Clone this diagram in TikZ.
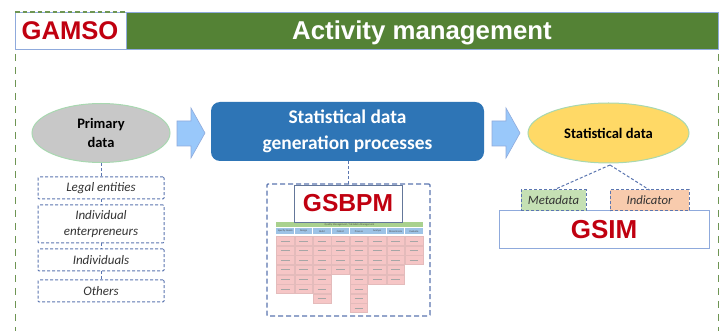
\documentclass[tikz,border=0pt]{standalone}
\usepackage{fontspec}
\setmainfont{Carlito}
\newfontfamily\arialf{Liberation Sans}
\usetikzlibrary{shapes.geometric,calc}
\definecolor{hdrgreen}{HTML}{548235}
\definecolor{frameblue}{HTML}{8FAADC}
\definecolor{dashblue}{HTML}{5B76B0}
\definecolor{boxblue}{HTML}{2E75B6}
\definecolor{arrowblue}{HTML}{99C8FA}
\definecolor{gamsored}{HTML}{C00010}
\definecolor{ellgrey}{HTML}{C8C8C8}
\definecolor{ellyellow}{HTML}{FFD966}
\definecolor{ellline}{HTML}{A8D8B0}
\definecolor{metagreen}{HTML}{C5E0B4}
\definecolor{indorange}{HTML}{F8CBAD}
\definecolor{cellpink}{HTML}{F6C6C6}
\definecolor{rowblue}{HTML}{9DC3E6}
\definecolor{rowgreen}{HTML}{A9D18E}
\tikzset{
  x=1pt,y=-1pt,
  boxat/.style={minimum width=0pt,minimum height=0pt,inner sep=0pt,outer sep=0pt},
  listbox/.style={boxat,draw=dashblue,dash pattern=on 3pt off 2pt,line width=1pt,rounded corners=1pt,
    font=\fontsize{13}{16}\selectfont\itshape,text=black!80,align=center},
  linkline/.style={draw=dashblue,line width=1pt,dash pattern=on 3pt off 2pt},
  framedash/.style={draw=hdrgreen!85!white,line width=1.6pt,dash pattern=on 7pt off 6pt},
  ell/.style={ellipse,draw=ellline,line width=1pt,inner sep=0pt,align=center,font=\fontsize{14.5}{19}\selectfont\bfseries},
  bigarrow/.style={fill=arrowblue,draw=frameblue,line width=.6pt},
  tag/.style={boxat,draw=dashblue,line width=1pt,dash pattern=on 3pt off 2pt,font=\fontsize{12.7}{14}\selectfont\itshape,text=black!80},
  cell/.style={fill=cellpink,draw=cellpink!85!gray,line width=.3pt},
  cellmark/.style={draw=black!35,line width=.5pt},
  gsbig/.style={font=\arialf\bfseries\fontsize{24.6}{26}\selectfont,text=gamsored},
  gsimt/.style={font=\arialf\bfseries\fontsize{26}{26}\selectfont,text=gamsored},
}
\newcommand{\rectnode}[6]{%
  \node[boxat,#6,minimum width=#4pt-#2pt,minimum height=#5pt-#3pt] (#1) at ({(#2+#4)/2},{(#3+#5)/2})}
\begin{document}
\begin{tikzpicture}
\useasboundingbox (0,0) rectangle (724,331);
\fill[white] (0,0) rectangle (724,331);
% outer dashed frame
\coordinate (fl) at (15.5,54); \coordinate (flb) at (15.5,331);
\coordinate (fr) at (718.5,54); \coordinate (frb) at (718.5,331);
\draw[framedash] (fl) -- (flb);
\draw[framedash] (fr) -- (frb);
% header
\rectnode{hdr}{15}{12}{718}{49}{fill=hdrgreen,draw=frameblue,line width=.8pt} {};
\rectnode{gamsobox}{15}{12}{126}{49}{fill=white,draw=frameblue,line width=.8pt} {};
\draw[framedash,line width=1.1pt,dash pattern=on 4.5pt off 3pt] (gamsobox.north west) -- (gamsobox.north east);
\node[anchor=base,font=\arialf\bfseries\fontsize{25.6}{26}\selectfont,text=gamsored,inner sep=0pt] (gamso) at (70,40) {GAMSO};
\node[anchor=base,font=\arialf\bfseries\fontsize{25.8}{26}\selectfont,text=white,inner sep=0pt] (activity) at (422,39.5) {Activity management};
% main shapes
\node[ell,fill=ellgrey,minimum width=138pt,minimum height=59pt] (primary) at (101,133) {Primary\\data};
\rectnode{process}{211}{102}{484}{161}{fill=boxblue,rounded corners=9pt,text=white,align=center,font=\fontsize{19.4}{26}\selectfont\bfseries} {Statistical data\\generation processes};
\node[ell,fill=ellyellow,minimum width=161pt,minimum height=60pt,font=\fontsize{14.6}{16}\selectfont\bfseries] (stat) at (608.5,133) {Statistical data};
% block arrows
\draw[bigarrow] (177,121) -- (191,121) -- (191,108) -- (205,133) -- (191,158) -- (191,146) -- (177,146) -- cycle;
\draw[bigarrow] (492,121) -- (506,121) -- (506,108) -- (520,133) -- (506,158) -- (506,146) -- (492,146) -- cycle;
% list
\rectnode{legal}{38}{177}{164}{199}{listbox} {Legal entities};
\rectnode{indent}{38}{205}{164}{243}{listbox} {Individual\\enterpreneurs};
\rectnode{indiv}{38}{249}{164}{271}{listbox} {Individuals};
\rectnode{others}{38}{280}{164}{302}{listbox} {Others};
\draw[linkline] (primary.south) -- (legal.north);
\draw[linkline] (legal) -- (indent);
\draw[linkline] (indent) -- (indiv);
\draw[linkline] (indiv) -- (others);
% GSBPM
\rectnode{gsbpmouter}{267}{184}{430}{316}{draw=dashblue,line width=1.2pt,dash pattern=on 5pt off 3pt,rounded corners=1pt} {};
\draw[linkline] (process.south -| gsbpmouter.north) -- (gsbpmouter.north);
\foreach \c/\h in {0/6,1/6,2/7,3/4,4/8,5/5,6/5,7/3}{
  \foreach \r in {1,...,\h}{
    \pgfmathsetmacro{\xa}{276+\c*18.4+.4}
    \pgfmathsetmacro{\xb}{\xa+17.6}
    \pgfmathsetmacro{\ya}{236+(\r-1)*9.6+.3}
    \pgfmathsetmacro{\yb}{\ya+9}
    \path[cell] (\xa,\ya) rectangle (\xb,\yb);
    \draw[cellmark] (\xa+4.5,\ya+4.5) -- (\xb-4.5,\ya+4.5);
  }
}
\rectnode{qbar}{276}{222}{423}{227.5}{fill=rowgreen} {};
\node[font=\fontsize{2.6}{3}\selectfont,text=black!70] at (qbar) {Quality Management / Metadata Management};
\foreach \c/\t in {0/Specify Needs,1/Design,2/Build,3/Collect,4/Process,5/Analyse,6/Disseminate,7/Evaluate}{
  \pgfmathsetmacro{\xa}{276+\c*18.4+.4}
  \pgfmathsetmacro{\xb}{\xa+17.6}
  \path[fill=rowblue] (\xa,228) rectangle (\xb,234.5);
  \node[font=\fontsize{2.6}{3}\selectfont,text=black!70,inner sep=0pt] at ({(\xa+\xb)/2},231.2) {\t};
}
\rectnode{gsbpm}{294}{185}{402}{222}{fill=white,draw=frameblue!70!black,line width=.9pt,gsbig} {GSBPM};
% GSIM
\rectnode{gsim}{499}{211}{709}{249}{fill=white,draw=frameblue,line width=1pt,gsimt} {GSIM};
\rectnode{meta}{521}{190}{586}{211}{tag,fill=metagreen} {Metadata};
\rectnode{ind}{610}{190}{689}{211}{tag,fill=indorange} {Indicator};
\coordinate (stb) at (610,165);
\draw[linkline] (stb) -- (meta.north);
\draw[linkline] (stb) -- (ind.north);
\end{tikzpicture}
\end{document}
